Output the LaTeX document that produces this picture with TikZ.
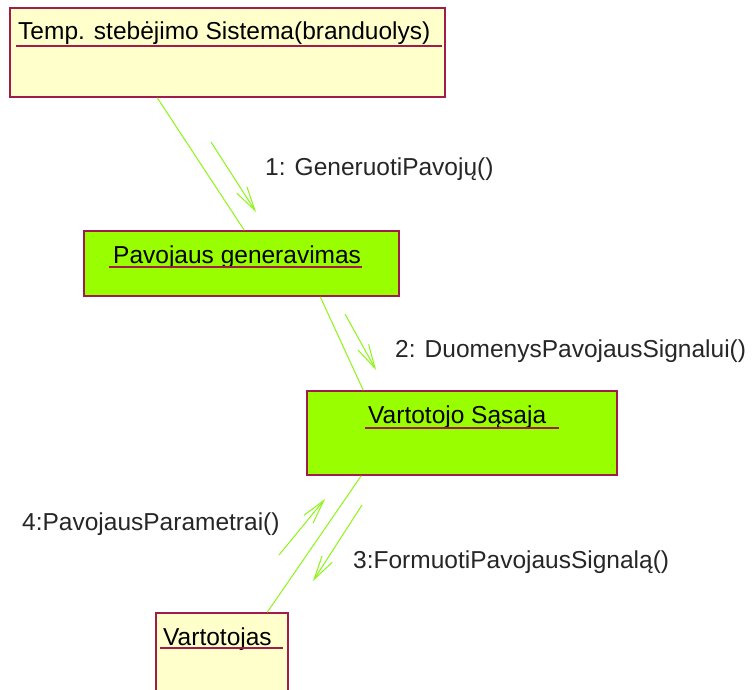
\documentclass[tikz,border=0pt]{standalone}
\usepackage{fontspec}
\setmainfont{Liberation Sans}
\usetikzlibrary{arrows.meta}
\definecolor{objborder}{RGB}{160,28,74}
\definecolor{objyellow}{RGB}{255,255,204}
\definecolor{objgreen}{RGB}{153,255,0}
\definecolor{linkgreen}{RGB}{140,245,20}
\begin{document}
\begin{tikzpicture}[x=1pt,y=-1pt,
  objbox/.style={draw=objborder,line width=1.5pt,rectangle,inner sep=0pt},
  yellowbox/.style={objbox,fill=objyellow},
  greenbox/.style={objbox,fill=objgreen},
  objname/.style={anchor=base west,inner sep=0pt,font=\fontsize{24.5}{29}\selectfont},
  msglabel/.style={anchor=base west,inner sep=0pt,text=black!85,font=\fontsize{24.5}{29}\selectfont},
  uline/.style={draw=objborder,line width=1.3pt},
  link/.style={draw=linkgreen,line width=1pt},
  msg/.style={draw=linkgreen,line width=1pt,-{Straight Barb[length=24pt,width=12pt]}}]
\useasboundingbox (0,0) rectangle (752,689);
\clip (0,0) rectangle (752,689);

% objects
\node[yellowbox,minimum width=435pt,minimum height=89pt] (b1) at (227.5,52.5) {};
\node[greenbox,minimum width=315pt,minimum height=65pt] (b2) at (241.5,263.5) {};
\node[greenbox,minimum width=310pt,minimum height=84pt] (b3) at (462,433) {};
\node[yellowbox,minimum width=132pt,minimum height=100pt] (b4) at (222,663) {};

% object names, underlined
\node[objname] (t1) at (18,39) {Temp. stebėjimo Sistema(branduolys)};
\draw[uline] (16,46) -- (442,46);
\node[objname] (t2) at (113,263) {Pavojaus generavimas};
\draw[uline] (109,267) -- (362,267);
\node[objname] (t3) at (368,423) {Vartotojo Sąsaja};
\draw[uline] (365,428) -- (559,428);
\node[objname] (t4) at (163,645) {Vartotojas};
\draw[uline] (160,648) -- (283,648);

% links between objects
\path (b1.south west) ++(148,0) coordinate (l1a);
\path (b2.north west) ++(161,0) coordinate (l1b);
\path (b2.south west) ++(237,0) coordinate (l2a);
\path (b3.north west) ++(57,0) coordinate (l2b);
\path (b3.south west) ++(55,0) coordinate (l3a);
\path (b4.north west) ++(112,0) coordinate (l3b);
\draw[link] (l1a) -- (l1b);
\draw[link] (l2a) -- (l2b);
\draw[link] (l3a) -- (l3b);

% messages
\coordinate (m1s) at (211,142); \coordinate (m1e) at (256,212);
\coordinate (m2s) at (345,314); \coordinate (m2e) at (376,370);
\coordinate (m3s) at (362,505); \coordinate (m3e) at (313,581);
\coordinate (m4s) at (279,555); \coordinate (m4e) at (325,499);
\draw[msg] (m1s) -- (m1e);
\draw[msg] (m2s) -- (m2e);
\draw[msg] (m3s) -- (m3e);
\draw[msg] (m4s) -- (m4e);

\node[msglabel] (ml1) at (265,175) {1: GeneruotiPavojų()};
\node[msglabel] (ml2) at (395,357) {2: DuomenysPavojausSignalui()};
\node[msglabel] (ml3) at (353,568) {3:FormuotiPavojausSignalą()};
\node[msglabel] (ml4) at (22,530) {4:PavojausParametrai()};
\end{tikzpicture}
\end{document}
